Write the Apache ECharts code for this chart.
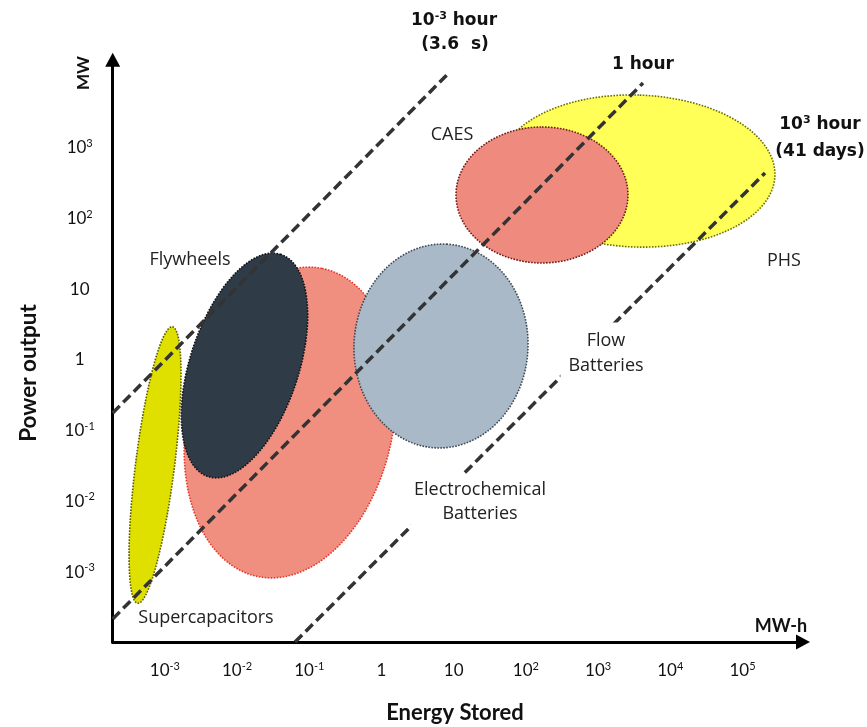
<!DOCTYPE html>
<html>
<head>
<meta charset="utf-8">
<script src="https://cdn.jsdelivr.net/npm/echarts@6/dist/echarts.min.js"></script>
<style>
html,body{margin:0;padding:0;background:#fff;}
#chart{width:867px;height:727px;}
</style>
</head>
<body>
<div id="chart"></div>
<script>
// ---- Axis ticks (decade exponents) ----
const energyTickExponents = [-3, -2, -1, 0, 1, 2, 3, 4, 5];   // MW-h
const powerTickExponents = [-3, -2, -1, 0, 1, 2, 3];          // MW
const energyAxisRange = [1.892e-4, 6.887e5];                  // MW-h
const powerAxisRange = [1.026e-4, 1.770e4];                   // MW

// ---- Technology regions (drawing order) ----
const technologies = ['Electrochemical Batteries', 'Flow Batteries', 'Flywheels', 'Supercapacitors', 'PHS', 'CAES'];
const centerEnergy = [0.0541, 6.67, 0.01265, 7.30e-4, 3459, 167];      // MW-h
const centerPower = [0.1306, 1.578, 0.836, 0.0327, 471, 216];          // MW
const semiMajorDecades = [2.224, 1.443, 1.65, 1.97, 1.075, 0.962];     // along (tilted) vertical
const semiMinorDecades = [1.427, 1.205, 0.755, 0.27, 1.911, 1.191];    // along (tilted) horizontal
const tiltDegrees = [11.5, 3, 17.6, 7, 2, 0];

// ---- Discharge-time lines ----
const durationNames = ['10^-3 hour', '1 hour', '10^3 hour'];
const lineEnergyStart = [1.892e-4, 1.892e-4, 0.0634];
const linePowerStart = [0.178, 2.17e-4, 1.026e-4];
const lineEnergyEnd = [8.0, 4188, 205100];
const linePowerEnd = [10740, 8279, 441.6];

// ---- Styles ----
const fillColors = ['#f08f80', '#a9b9c7', '#2f3c48', '#e0e000', '#ffff57', '#ef8b7e'];
const borderColors = ['#e8372a', '#3f4a55', '#111111', '#5c5c00', '#6f6f00', '#6e1a1a'];

const TICK_FONT = 'Lato';

function makeTickFormatter(allowed) {
  return function (v) {
    const e = Math.log10(v);
    const r = Math.round(e);
    if (Math.abs(e - r) > 1e-6 || allowed.indexOf(r) < 0) return '';
    if (r === 0) return '1';
    if (r === 1) return '10';
    return '10{s|' + r + '}';
  };
}

const supRich = {
  s: { fontSize: 11, fontFamily: TICK_FONT, color: '#111', verticalAlign: 'top', lineHeight: 12 }
};

const ellipseData = technologies.map((name, i) => ({
  name: name,
  value: [centerEnergy[i], centerPower[i], semiMajorDecades[i], semiMinorDecades[i], tiltDegrees[i]]
}));

const lineSeries = durationNames.map((name, i) => ({
  type: 'line',
  name: name,
  data: [[lineEnergyStart[i], linePowerStart[i]], [lineEnergyEnd[i], linePowerEnd[i]]],
  symbol: 'none',
  silent: true,
  z: 5,
  lineStyle: { color: '#333333', width: 3.5, type: [10, 5], cap: 'butt' }
}));

function txt(x, y, text, font, opts) {
  opts = opts || {};
  return {
    type: 'text', x: x, y: y, z: 20, rotation: opts.rotation || 0,
    style: Object.assign({
      text: text, font: font, fill: opts.fill || '#222',
      align: 'center', verticalAlign: 'middle'
    }, opts.style || {})
  };
}

const regionFont = '18px "Open Sans"';
const boldFont = 'bold 17px "DejaVu Sans"';
const supBold = { s: { font: 'bold 11px "DejaVu Sans"', fill: '#111', verticalAlign: 'top', lineHeight: 12 } };

const option = {
  animation: false,
  backgroundColor: '#ffffff',
  grid: { left: 112.7, right: 64, top: 59.7, bottom: 85 },
  xAxis: {
    type: 'log', logBase: 10,
    min: energyAxisRange[0], max: energyAxisRange[1],
    splitNumber: 10,
    axisLine: { show: true, onZero: false, lineStyle: { color: '#000', width: 3 },
      symbol: ['none', 'triangle'], symbolSize: [15, 14] },
    axisTick: { show: false },
    splitLine: { show: false },
    minorTick: { show: false },
    axisLabel: {
      show: true, margin: 19, fontFamily: TICK_FONT, fontSize: 17, color: '#111',
      lineHeight: 20, formatter: makeTickFormatter(energyTickExponents), rich: supRich,
      showMinLabel: false, showMaxLabel: false, hideOverlap: false
    }
  },
  yAxis: {
    type: 'log', logBase: 10,
    min: powerAxisRange[0], max: powerAxisRange[1],
    splitNumber: 10,
    axisLine: { show: true, onZero: false, lineStyle: { color: '#000', width: 3 },
      symbol: ['none', 'triangle'], symbolSize: [15, 14] },
    axisTick: { show: false },
    splitLine: { show: false },
    minorTick: { show: false },
    axisLabel: {
      show: true, margin: 33, align: 'center', fontFamily: TICK_FONT, fontSize: 17, color: '#111',
      lineHeight: 20, formatter: makeTickFormatter(powerTickExponents), rich: supRich,
      showMinLabel: false, showMaxLabel: false, hideOverlap: false
    }
  },
  series: [
    {
      type: 'custom',
      name: 'Technologies',
      coordinateSystem: 'cartesian2d',
      clip: false,
      silent: true,
      z: 2,
      encode: { x: 0, y: 1 },
      data: ellipseData,
      renderItem: function (params, api) {
        const i = params.dataIndex;
        const ce = Math.log10(api.value(0));
        const cp = Math.log10(api.value(1));
        const a = api.value(2), b = api.value(3);
        const phi = api.value(4) * Math.PI / 180;
        const pts = [];
        const N = 160;
        for (let k = 0; k < N; k++) {
          const t = 2 * Math.PI * k / N;
          const u = a * Math.cos(t), w = b * Math.sin(t);
          const le = ce + u * Math.sin(phi) + w * Math.cos(phi);
          const lp = cp + u * Math.cos(phi) - w * Math.sin(phi);
          pts.push(api.coord([Math.pow(10, le), Math.pow(10, lp)]));
        }
        return {
          type: 'polygon',
          shape: { points: pts },
          style: { fill: fillColors[i], stroke: borderColors[i], lineWidth: 1.6, lineDash: [1.6, 1.4] }
        };
      }
    }
  ].concat(lineSeries),
  graphic: [
    // region labels
    txt(190, 260, 'Flywheels', regionFont),
    txt(452, 135, 'CAES', regionFont),
    txt(784, 261, 'PHS', regionFont),
    txt(606, 353.5, 'Flow\nBatteries', regionFont, { style: { lineHeight: 25, backgroundColor: '#ffffff', padding: [6, 8] } }),
    txt(480, 502, 'Electrochemical\nBatteries', regionFont, { style: { lineHeight: 24, backgroundColor: '#ffffff', padding: [4, 3] } }),
    txt(206, 618, 'Supercapacitors', regionFont),
    // duration labels
    txt(454, 21, '10{s|-3} hour', boldFont, { fill: '#111', style: { rich: supBold, lineHeight: 20 } }),
    txt(455, 45, '(3.6  s)', boldFont, { fill: '#111' }),
    txt(643, 65, '1 hour', boldFont, { fill: '#111' }),
    txt(820, 125, '10{s|3} hour', boldFont, { fill: '#111', style: { rich: supBold, lineHeight: 20 } }),
    txt(820, 152, '(41 days)', boldFont, { fill: '#111' }),
    // axis titles
    txt(83.5, 73, 'MW', 'bold 17px Lato', { fill: '#111', rotation: Math.PI / 2 }),
    txt(781, 626, 'MW-h', 'bold 18px Lato', { fill: '#111' }),
    txt(29, 373, 'Power output', 'bold 22.5px Lato', { fill: '#111', rotation: Math.PI / 2 }),
    txt(455, 713, 'Energy Stored', 'bold 22px Lato', { fill: '#111' })
  ]
};

const chart = echarts.init(document.getElementById('chart'), null, { renderer: 'canvas' });
chart.setOption(option);
</script>
</body>
</html>
